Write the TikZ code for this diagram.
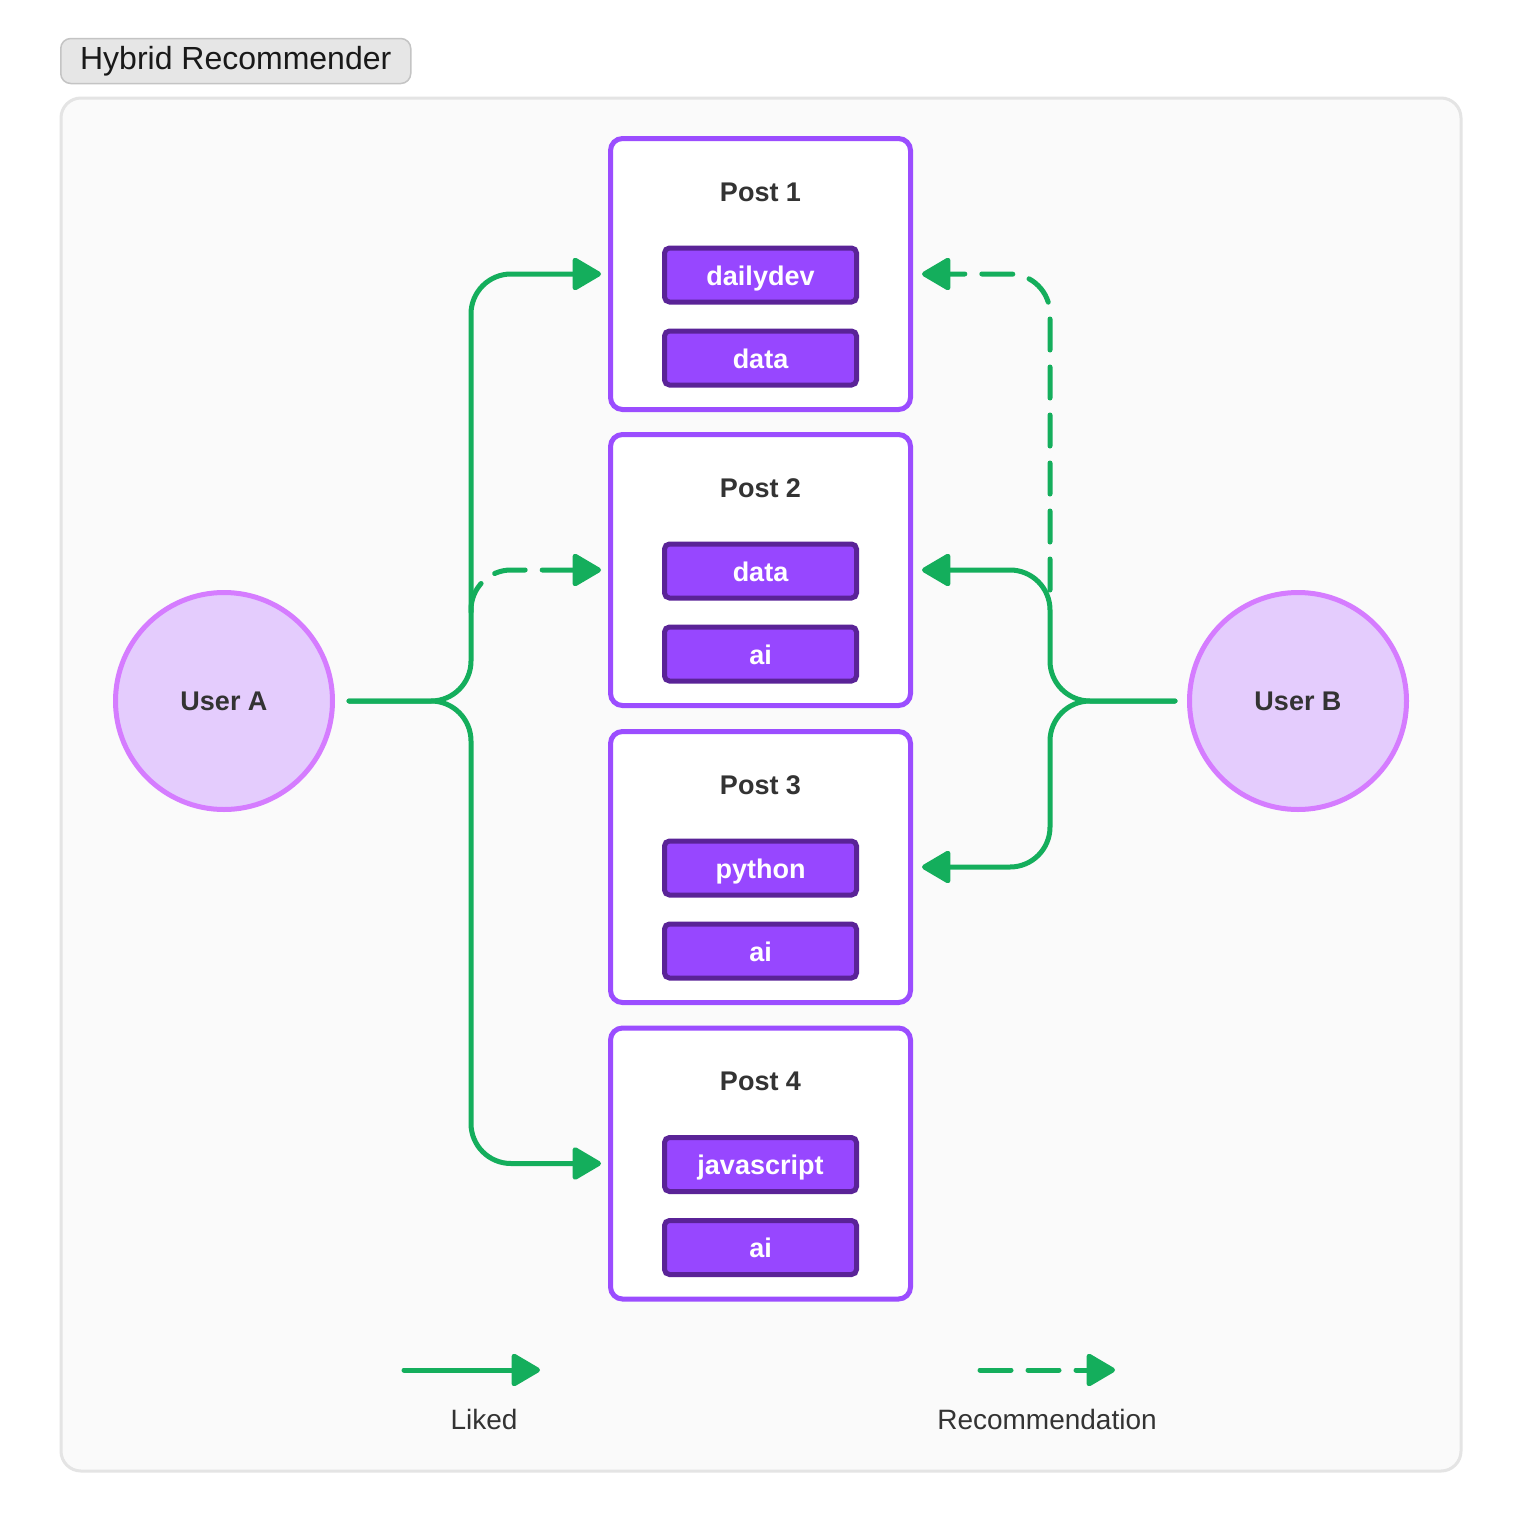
\documentclass[tikz,border=0pt]{standalone}
\usepackage{fontspec}
\setmainfont{Liberation Sans}
\usetikzlibrary{arrows.meta,calc}
\definecolor{gr}{HTML}{14AE5C}
\definecolor{postc}{HTML}{9B4DFF}
\definecolor{tagf}{HTML}{9747FF}
\definecolor{tagb}{HTML}{5A2397}
\definecolor{userf}{HTML}{E4CCFD}
\definecolor{userb}{HTML}{D57CFF}
\definecolor{bgf}{HTML}{FAFAFA}
\definecolor{bgb}{HTML}{E4E4E4}
\definecolor{titf}{HTML}{E6E6E6}
\definecolor{titb}{HTML}{C4C4C4}
\definecolor{txt}{HTML}{333333}
\tikzset{
  lbl/.style={font=\fontsize{27}{32}\selectfont\bfseries, text=txt, inner sep=0pt},
  post/.style={draw=postc, line width=5pt, fill=white, rounded corners=12pt,
    minimum width=300pt, minimum height=271pt, inner sep=0pt},
  tagbox/.style={draw=tagb, fill=tagf, line width=5pt, rounded corners=5pt,
    minimum width=192pt, minimum height=54pt, inner sep=0pt, text=white,
    font=\fontsize{27}{32}\selectfont\bfseries, text height=20pt, text depth=0pt},
  user/.style={circle, draw=userb, fill=userf, line width=5pt, minimum size=217pt,
    inner sep=0pt, font=\fontsize{27}{32}\selectfont\bfseries, text=txt},
  tipa/.style={-{Triangle[length=31pt,width=35pt,round]}},
  liked/.style={draw=gr, line width=5pt, line cap=round, line join=round,
    rounded corners=40pt, tipa},
  rec/.style={liked, dash pattern=on 31pt off 17pt},
  legtxt/.style={font=\fontsize{28}{32}\selectfont, text=txt, inner sep=0pt}
}
\begin{document}
\begin{tikzpicture}[x=1pt,y=-1pt]
\useasboundingbox (0,0) rectangle (1536,1539);
\fill[white] (0,0) rectangle (1536,1539);
% container
\draw[fill=bgf, draw=bgb, line width=3pt, rounded corners=20pt] (61,98) rectangle (1461,1471);
% title
\node[draw=titb, fill=titf, line width=1.5pt, rounded corners=10pt, minimum width=350pt,
  minimum height=45pt, inner sep=0pt, anchor=west, font=\fontsize{32}{36}\selectfont,
  text=black!90] (title) at (60,61) {Hybrid Recommender};
% posts
\foreach \i/\y/\ta/\tb in {1/274/dailydev/data, 2/570/data/ai, 3/867/python/ai, 4/1163.5/javascript/ai}{
  \node[post] (post\i) at (760.5,\y) {};
  \node[lbl] (ptitle\i) at (760.5,\y-82) {Post \i};
  \node[tagbox] (tag\i a) at (760.5,\y+1) {\ta};
  \node[tagbox] (tag\i b) at (760.5,\y+84) {\tb};
}
% users
\node[user] (userA) at (224,701) {User A};
\node[user] (userB) at (1298,701) {User B};
% junction coordinates
\coordinate (ja) at (471,701);
\coordinate (jb) at (1050,701);
\coordinate (ra) at (471,612);
\coordinate (rb) at (1050,590);
% liked from user A
\draw[liked, shorten <=14pt, shorten >=7pt] (userA.east) -| (ja |- post1.west) -- (post1.west);
\draw[liked, shorten <=14pt, shorten >=7pt] (userA.east) -| (ja |- post4.west) -- (post4.west);
\draw[rec, shorten >=7pt] (ra) |- (post2.west);
% liked from user B
\draw[liked, shorten <=12pt, shorten >=9pt] (userB.west) -| (jb |- post2.east) -- (post2.east);
\draw[liked, shorten <=12pt, shorten >=9pt] (userB.west) -| (jb |- post3.east) -- (post3.east);
\draw[rec, shorten >=9pt] (rb) |- (post1.east);
% legend
\coordinate (l1s) at (404,1370);
\coordinate (l1e) at (540,1370);
\coordinate (l2s) at (980,1370);
\coordinate (l2e) at (1115,1370);
\draw[liked] (l1s) -- (l1e);
\draw[rec] (l2s) -- (l2e);
\node[legtxt] (likedlbl) at (484,1419) {Liked};
\node[legtxt] (reclbl) at (1047,1419) {Recommendation};
\end{tikzpicture}
\end{document}
